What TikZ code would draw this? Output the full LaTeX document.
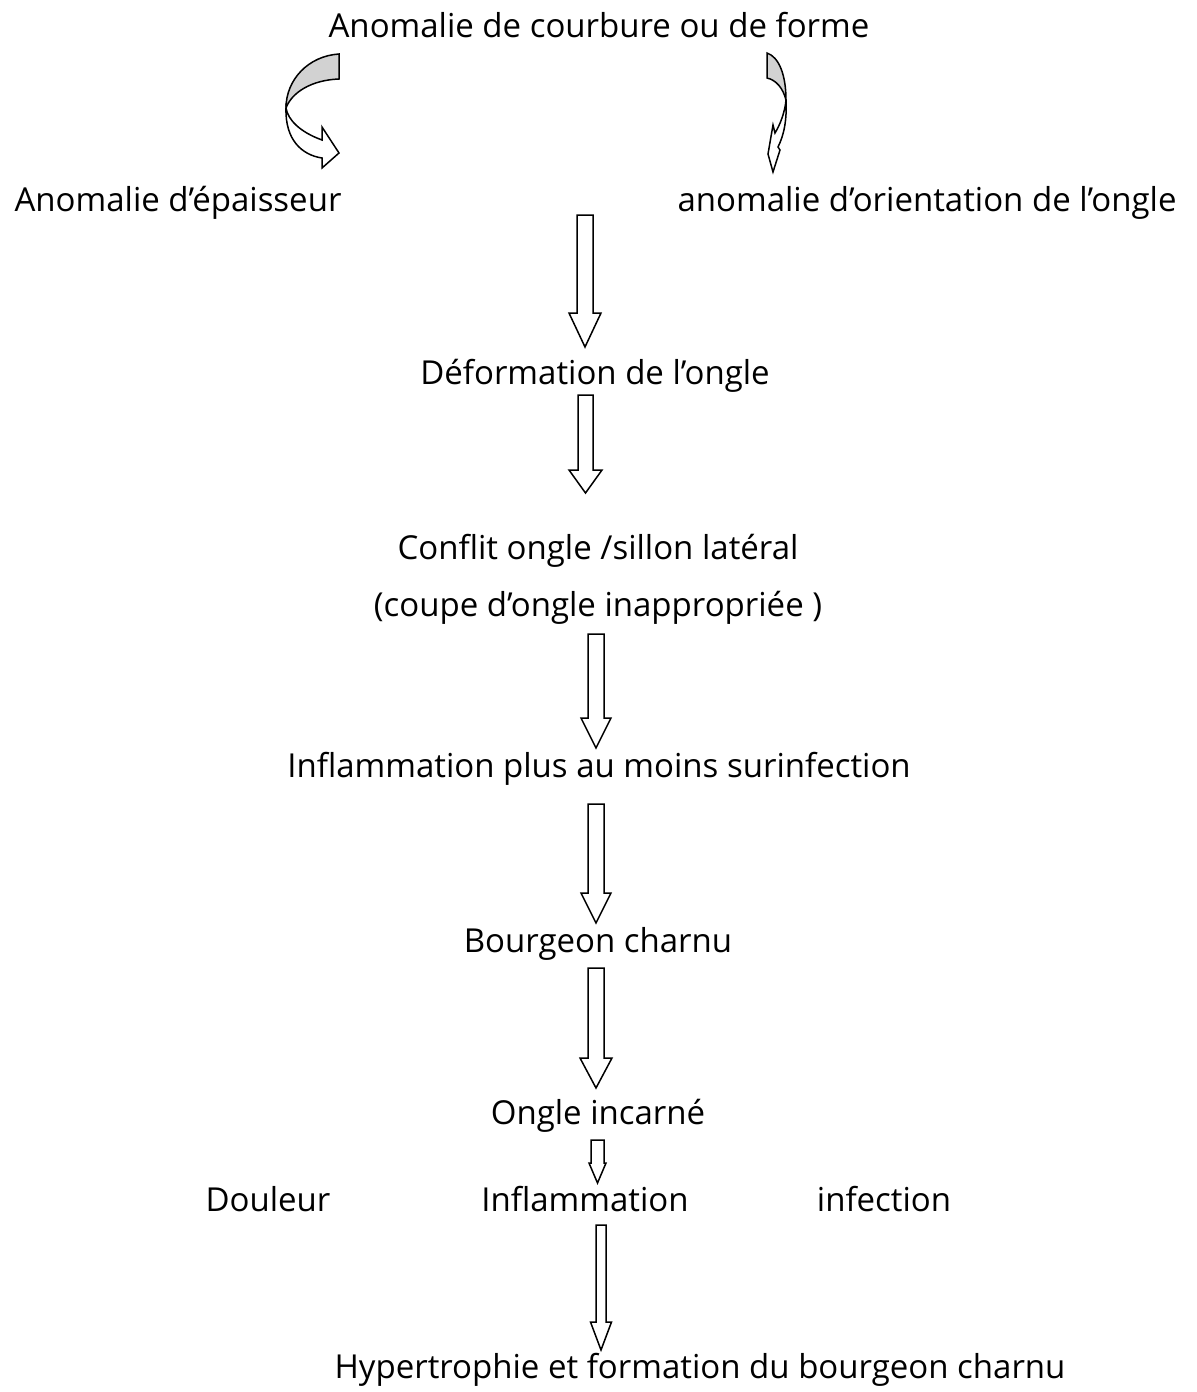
\documentclass[tikz,border=0pt]{standalone}
\usepackage{fontspec}
\setmainfont{Open Sans}
\usetikzlibrary{calc}

% fleche bloc : depart, arrivee, demi-corps, demi-tete, longueur tete
\newcommand{\fleche}[5]{%
  \draw[bloc] let \p1=(#1), \p2=(#2) in
    ({\x1-#3},\y1) -- ({\x1+#3},\y1) -- ({\x1+#3},{\y2+#5}) -- ({\x1+#4},{\y2+#5})
    -- (\x1,\y2) -- ({\x1-#4},{\y2+#5}) -- ({\x1-#3},{\y2+#5}) -- cycle;}

\begin{document}
\begin{tikzpicture}[x=0.5pt,y=-0.5pt,
  txt/.style={font=\fontsize{16.5}{20}\selectfont, anchor=base, inner sep=0pt},
  bloc/.style={draw=black, fill=white, line width=0.75pt, line join=miter},
  courbe/.style={draw=black, line width=0.75pt}]
\useasboundingbox (0,0) rectangle (1197,1392);

% textes
\node[txt] (courbure) at (599,38) {Anomalie de courbure ou de forme};
\node[txt] (epaisseur) at (178,211) {Anomalie d’épaisseur};
\node[txt] (orientation) at (927,211) {anomalie d’orientation de l’ongle};
\node[txt] (deformation) at (595,384) {Déformation de l’ongle};
\node[txt] (conflit) at (598,559) {Conflit ongle /sillon latéral};
\node[txt] (coupe) at (598,616) {(coupe d’ongle inappropriée )};
\node[txt] (inflammation) at (599,777) {Inflammation plus au moins surinfection};
\node[txt] (bourgeon) at (598,952) {Bourgeon charnu};
\node[txt] (incarne) at (598,1124) {Ongle incarné};
\node[txt] (douleur) at (268,1211) {Douleur};
\node[txt] (inflam) at (585,1211) {Inflammation};
\node[txt] (infection) at (884,1211) {infection};
\node[txt] (hypertrophie) at (700,1378) {Hypertrophie et formation du bourgeon charnu};
\coordinate (anomalies) at (585,215);

% fleches courbes
\draw[courbe, fill=gray!35] (339,54) .. controls (308,56) and (286,80) .. (286,108)
  .. controls (292,92) and (312,80) .. (339,79) -- cycle;
\draw[courbe, fill=white] (286,108) .. controls (285,140) and (302,155) .. (322,158)
  -- (322,168) -- (339,153) -- (322,127) -- (322,140)
  .. controls (300,132) and (288,120) .. (286,108) -- cycle;
\draw[courbe, fill=gray!35] (767,53) .. controls (779,57) and (786,75) .. (786,100)
  .. controls (783,88) and (776,80) .. (767,78) -- cycle;
\draw[courbe, fill=white] (786,100) .. controls (787,120) and (784,135) .. (778,147)
  -- (780,150) -- (773,172) -- (768,154) -- (773,125) -- (775,133)
  .. controls (780,125) and (785,112) .. (786,100) -- cycle;

% fleches droites
\fleche{anomalies}{[shift={(0,-37)}]deformation.base}{4pt}{8pt}{17pt}
\fleche{[shift={(-9.5,11)}]deformation.base}{[shift={(-12.5,-66)}]conflit.base}{3.75pt}{8.25pt}{11.5pt}
\fleche{[shift={(-2,18)}]coupe.base}{[shift={(-3,-29)}]inflammation.base}{4pt}{7.5pt}{15pt}
\fleche{[shift={(-3,27)}]inflammation.base}{[shift={(-2,-29)}]bourgeon.base}{4pt}{7.5pt}{15pt}
\fleche{[shift={(-2,16)}]bourgeon.base}{[shift={(-2,-36)}]incarne.base}{4pt}{8pt}{15pt}
\fleche{[shift={(-0.5,16)}]incarne.base}{[shift={(12.5,-28)}]inflam.base}{3.25pt}{4.25pt}{10pt}
\fleche{[shift={(16,14)}]inflam.base}{[shift={(-99,-28)}]hypertrophie.base}{2.5pt}{5.25pt}{14pt}
\end{tikzpicture}
\end{document}
